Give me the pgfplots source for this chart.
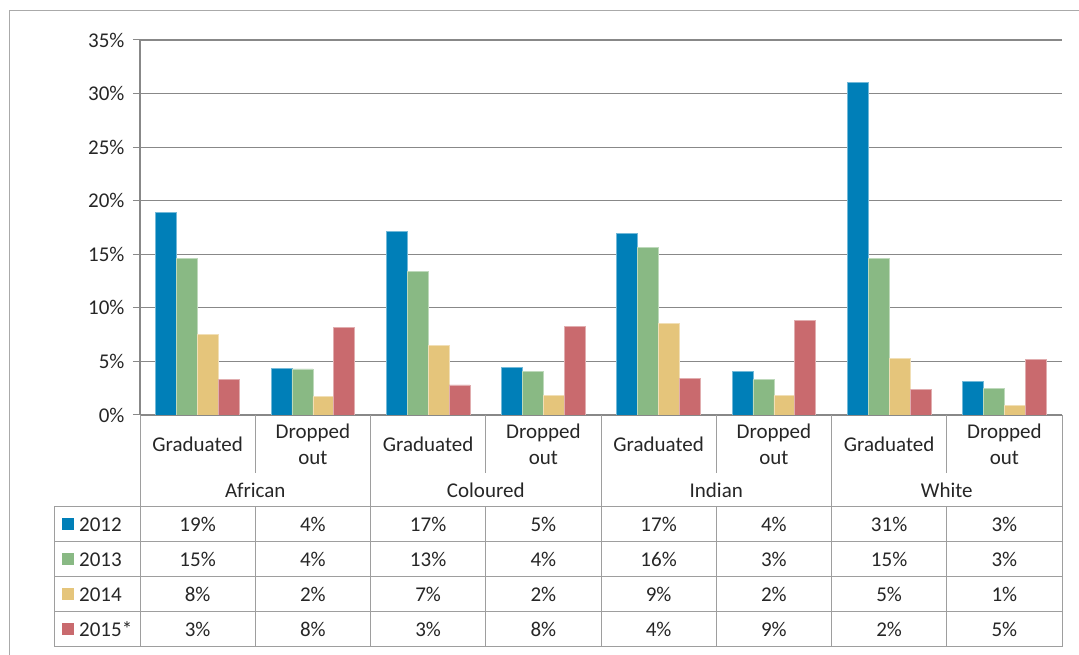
\documentclass[border=0pt]{standalone}
\usepackage{pgfplots}
\pgfplotsset{compat=1.18}
\usepackage{fontspec}
\setmainfont{Carlito}
\definecolor{c12}{RGB}{0,127,184}
\definecolor{c13}{RGB}{137,185,132}
\definecolor{c14}{RGB}{229,197,123}
\definecolor{c15}{RGB}{201,106,110}
\definecolor{gridc}{RGB}{136,136,136}
\definecolor{linec}{RGB}{158,158,158}
\definecolor{framec}{RGB}{170,170,170}
\definecolor{txt}{RGB}{38,38,38}
\begin{document}
\begin{tikzpicture}
\path[use as bounding box] (0,0) rectangle (1079pt,655pt);
\begin{axis}[
  at={(140pt,240pt)}, anchor=south west,
  width=922pt, height=375pt, scale only axis,
  xmin=0, xmax=8, ymin=0, ymax=35,
  axis x line*=bottom, axis y line*=left,
  axis line style={gridc, line width=1.2pt},
  xtick=\empty,
  ytick={0,5,...,35},
  yticklabel={\pgfmathprintnumber{\tick}\%},
  /pgf/number format/assume math mode=true,
  tick align=outside, major tick length=7pt,
  tick style={gridc, line width=1pt},
  ymajorgrids, grid style={gridc, line width=1.2pt},
  tick label style={font=\fontsize{21}{25}\selectfont, text=txt},
  yticklabel style={xshift=-5pt},
  ybar, bar width=0.1814,
]
\addplot[fill=c12, draw=c12!55!white, line width=0.7pt, bar shift=-0.2721] coordinates {(0.5,18.9) (1.5,4.35) (2.5,17.15) (3.5,4.45) (4.5,16.95) (5.5,4.05) (6.5,31.0) (7.5,3.15)};
\addplot[fill=c13, draw=c13!55!white, line width=0.7pt, bar shift=-0.0907] coordinates {(0.5,14.6) (1.5,4.3) (2.5,13.4) (3.5,4.05) (4.5,15.6) (5.5,3.3) (6.5,14.6) (7.5,2.45)};
\addplot[fill=c14, draw=c14!55!white, line width=0.7pt, bar shift=0.0907] coordinates {(0.5,7.5) (1.5,1.7) (2.5,6.5) (3.5,1.8) (4.5,8.55) (5.5,1.8) (6.5,5.3) (7.5,0.9)};
\addplot[fill=c15, draw=c15!55!white, line width=0.7pt, bar shift=0.2721] coordinates {(0.5,3.3) (1.5,8.15) (2.5,2.8) (3.5,8.25) (4.5,3.45) (5.5,8.8) (6.5,2.4) (7.5,5.2)};
\end{axis}
\begin{scope}[x=1pt,y=-1pt,yshift=655pt]
  \draw[framec, line width=1pt] (9,656) -- (9,11) -- (1080,11);
  \begin{scope}[linec, line width=1pt]
    \foreach \y in {507,542,577,612,647} \draw (54,\y) -- (1062,\y);
    \draw (54,507) -- (54,647);
    \foreach \x in {140,370.5,601,831.5,1062} \draw (\x,415) -- (\x,647);
    \foreach \x in {255.25,485.75,716.25,946.75} {\draw (\x,415) -- (\x,473); \draw (\x,507) -- (\x,647);}
  \end{scope}
  \begin{scope}[every node/.style={text=txt, font=\fontsize{21}{26}\selectfont, inner sep=0pt}]
    \foreach \x in {197.6,428.1,658.6,889.1} \node at (\x,444) {Graduated};
    \foreach \x in {312.9,543.4,773.9,1004.4} \node[align=center] at (\x,444) {Dropped\\out};
    \node at (255.25,490) {African};
    \node at (485.75,490) {Coloured};
    \node at (716.25,490) {Indian};
    \node at (946.75,490) {White};
    % legend column
    \foreach \y/\c/\l in {524.5/c12/2012, 559.5/c13/2013, 594.5/c14/2014, 629.5/c15/2015*} {
      \fill[\c] (62,\y-6) rectangle (74,\y+6);
      \node[anchor=west] at (79,\y) {\l};
    }
    % data values
    \foreach \y/\vals in {524.5/{19,4,17,5,17,4,31,3}, 559.5/{15,4,13,4,16,3,15,3}, 594.5/{8,2,7,2,9,2,5,1}, 629.5/{3,8,3,8,4,9,2,5}} {
      \foreach \v [count=\i from 0] in \vals {
        \node at ({140+115.25*(\i+0.5)},\y) {\v\%};
      }
    }
  \end{scope}
\end{scope}
\end{tikzpicture}
\end{document}
